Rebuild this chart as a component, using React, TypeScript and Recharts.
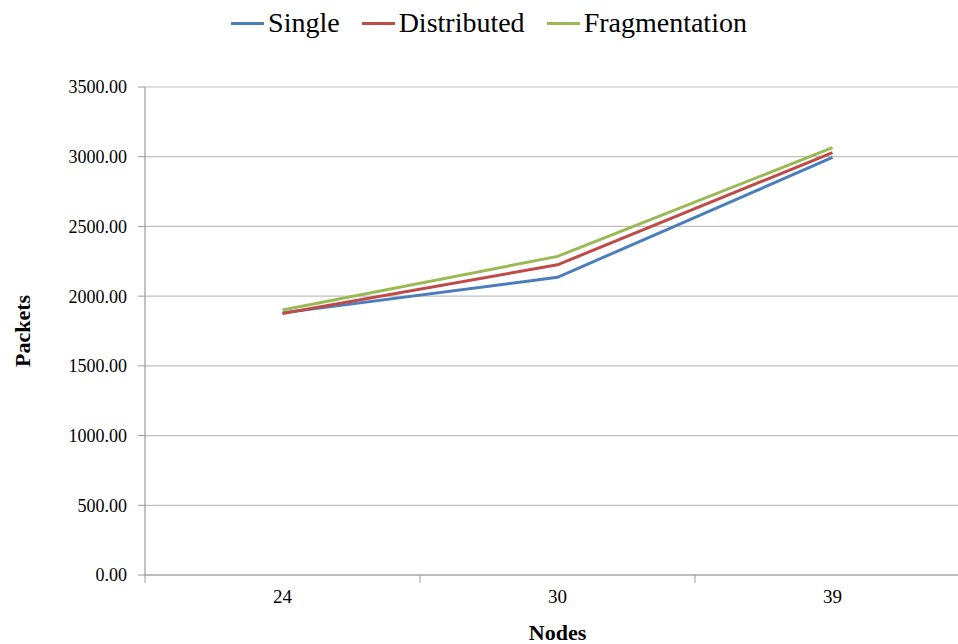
import { CartesianGrid, Legend, Line, LineChart, XAxis, YAxis } from 'recharts';

const nodes = ['24', '30', '39'];
const single = [1880, 2135, 2995];
const distributed = [1875, 2225, 3030];
const fragmentation = [1900, 2285, 3065];
const yTicks = [0, 500, 1000, 1500, 2000, 2500, 3000, 3500];

const series = [
  { key: 'single', name: 'Single', color: '#4A7EBB' },
  { key: 'distributed', name: 'Distributed', color: '#BE4B48' },
  { key: 'fragmentation', name: 'Fragmentation', color: '#98B954' },
];

const data = nodes.map((n, i) => ({
  nodes: n,
  single: single[i],
  distributed: distributed[i],
  fragmentation: fragmentation[i],
}));

const font = '"Liberation Serif", "Times New Roman", serif';
const axisGray = '#9A9A9A';

function LegendBox() {
  return (
    <div
      style={{
        height: 50,
        display: 'flex',
        justifyContent: 'center',
        alignItems: 'flex-start',
        fontFamily: font,
        fontSize: 28,
        color: '#000',
        lineHeight: '30px',
      }}
    >
      {series.map((s) => (
        <div key={s.key} style={{ display: 'flex', alignItems: 'center', margin: '0 11px' }}>
          <span style={{ display: 'inline-block', width: 33, height: 3, background: s.color, marginRight: 4 }} />
          <span>{s.name}</span>
        </div>
      ))}
    </div>
  );
}

// Excel-style category tick: marks sit between categories, label at the centre
function NodeTick(props: any) {
  const { x, y, payload, index } = props;
  const half = payload.offset || 0;
  const last = index === nodes.length - 1;
  return (
    <g>
      <line x1={x - half} x2={x - half} y1={y} y2={y + 8} stroke={axisGray} />
      {last && <line x1={x + half} x2={x + half} y1={y} y2={y + 8} stroke={axisGray} />}
      <text x={x} y={y + 28} textAnchor="middle" fill="#000" fontFamily={font} fontSize={19}>
        {payload.value}
      </text>
    </g>
  );
}

export default function App() {
  return (
    <div
      style={{
        position: 'fixed',
        left: 0,
        top: 0,
        width: 958,
        height: 644,
        overflow: 'hidden',
        background: '#fff',
        fontFamily: font,
      }}
    >
      <div style={{ position: 'absolute', left: 8, top: 8 }}>
        <LineChart
          width={975}
          height={636}
          data={data}
          margin={{ top: 29, right: 13, bottom: 0, left: 0 }}
          style={{ fontFamily: font }}
        >
          <Legend verticalAlign="top" content={<LegendBox />} wrapperStyle={{ top: 0 }} />
          <CartesianGrid vertical={false} stroke="#BFBFBF" strokeWidth={1.2} />
          <XAxis
            dataKey="nodes"
            scale="band"
            height={69}
            axisLine={{ stroke: axisGray, strokeWidth: 1.2 }}
            tickLine={false}
            tickSize={0}
            tickMargin={0}
            interval={0}
            tick={<NodeTick />}
            label={{
              value: 'Nodes',
              position: 'insideBottom',
              offset: 4,
              style: { fill: '#000', fontFamily: font, fontSize: 22, fontWeight: 'bold' },
            }}
          />
          <YAxis
            width={137}
            domain={[0, 3500]}
            ticks={yTicks}
            tickFormatter={(v: number) => v.toFixed(2)}
            tickSize={7}
            tickMargin={11}
            axisLine={{ stroke: axisGray, strokeWidth: 1.2 }}
            tickLine={{ stroke: axisGray }}
            tick={{ fill: '#000', fontFamily: font, fontSize: 18 }}
            label={{
              value: 'Packets',
              angle: -90,
              position: 'insideLeft',
              offset: 14,
              style: { textAnchor: 'middle', fill: '#000', fontFamily: font, fontSize: 22, fontWeight: 'bold' },
            }}
          />
          {series.map((s) => (
            <Line
              key={s.key}
              type="linear"
              dataKey={s.key}
              name={s.name}
              stroke={s.color}
              strokeWidth={3}
              dot={false}
              activeDot={false}
              isAnimationActive={false}
            />
          ))}
        </LineChart>
      </div>
    </div>
  );
}
